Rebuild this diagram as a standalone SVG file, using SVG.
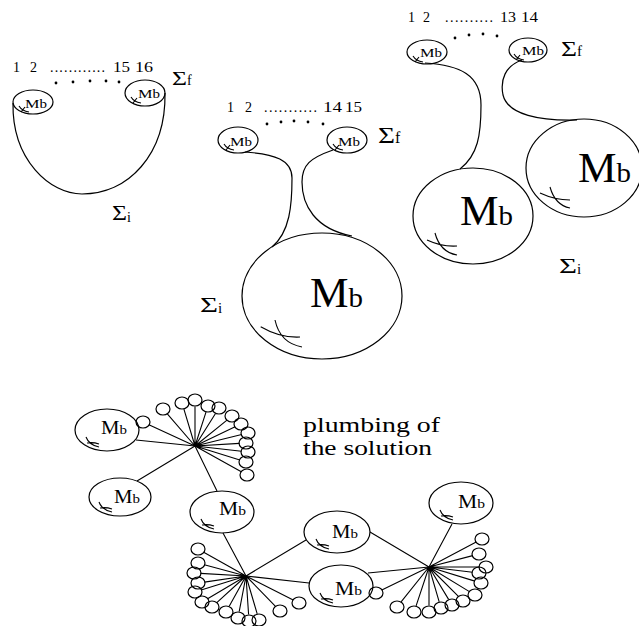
<svg xmlns="http://www.w3.org/2000/svg" xmlns:xlink="http://www.w3.org/1999/xlink" width="639" height="626" viewBox="0 0 639 626">
<style>
.s{fill:none;stroke:#000;stroke-width:1.2}
.l{fill:none;stroke:#000;stroke-width:1.1}
.t{font-family:"Liberation Serif","Times New Roman",serif;fill:#000}
.d{fill:#000}
</style>
<defs>
<path id="tk" d="M-14,4 Q-11,9 -4,10 M-12,10 L-8,5"/>
<path id="tb" d="M-21,7 Q-18,15 -8,17 M-20,13 Q-14,12 -8,14"/>
</defs>
<rect width="639" height="626" fill="#fff"/>

<!-- Figure 1 (top-left) -->
<g id="fig1">
  <g id="fig1-labels" class="t">
    <text x="13" y="72" font-size="14">1</text>
    <text x="30" y="72" font-size="14">2</text>
    <text x="50" y="72" font-size="14" textLength="55">............</text>
    <text x="113" y="72" font-size="14" textLength="17" lengthAdjust="spacingAndGlyphs">15</text>
    <text x="135" y="72" font-size="14" textLength="18" lengthAdjust="spacingAndGlyphs">16</text>
    <text x="172" y="85" font-size="19" textLength="15" lengthAdjust="spacingAndGlyphs">Σ</text>
    <text x="187" y="85" font-size="14">f</text>
    <text x="112" y="220" font-size="20" textLength="15" lengthAdjust="spacingAndGlyphs">Σ</text>
    <text x="127" y="222" font-size="14">i</text>
  </g>
  <g id="fig1-dots" class="d">
    <circle cx="56" cy="83" r="1.4"/><circle cx="73" cy="82" r="1.4"/><circle cx="90" cy="81" r="1.4"/><circle cx="106" cy="81" r="1.4"/><circle cx="119" cy="82" r="1.4"/>
  </g>
  <g id="fig1-mb1">
    <ellipse class="s" cx="33" cy="102" rx="20" ry="12"/>
    <use xlink:href="#tk" href="#tk" class="l" transform="translate(33,102)"/>
    <text class="t" x="25" y="108" font-size="13" textLength="22" lengthAdjust="spacingAndGlyphs">M<tspan font-size="12">b</tspan></text>
  </g>
  <g id="fig1-mb2">
    <ellipse class="s" cx="145" cy="93" rx="20" ry="13"/>
    <use xlink:href="#tk" href="#tk" class="l" transform="translate(145,93)"/>
    <text class="t" x="138" y="98" font-size="13" textLength="22" lengthAdjust="spacingAndGlyphs">M<tspan font-size="12">b</tspan></text>
  </g>
  <path id="fig1-sigma-i" class="s" d="M13,103 C12,160 50,194 82,194 C128,194 166,155 165,93"/>
</g>

<!-- Figure 2 (middle) -->
<g id="fig2">
  <g id="fig2-labels" class="t">
    <text x="227" y="112" font-size="14">1</text>
    <text x="245" y="112" font-size="14">2</text>
    <text x="264" y="112" font-size="14" textLength="53">...........</text>
    <text x="323" y="112" font-size="14" textLength="19" lengthAdjust="spacingAndGlyphs">14</text>
    <text x="345" y="112" font-size="14" textLength="17" lengthAdjust="spacingAndGlyphs">15</text>
    <text x="378" y="143" font-size="24" textLength="17" lengthAdjust="spacingAndGlyphs">Σ</text>
    <text x="395" y="143" font-size="16">f</text>
    <text x="200" y="312" font-size="21" textLength="18" lengthAdjust="spacingAndGlyphs">Σ</text>
    <text x="218" y="313" font-size="15">i</text>
  </g>
  <g id="fig2-dots" class="d">
    <circle cx="267" cy="124" r="1.4"/><circle cx="281" cy="122" r="1.4"/><circle cx="294" cy="121" r="1.4"/><circle cx="308" cy="122" r="1.4"/><circle cx="323" cy="124" r="1.4"/>
  </g>
  <g id="fig2-mb1">
    <ellipse class="s" cx="238" cy="140" rx="20" ry="13"/>
    <use xlink:href="#tk" href="#tk" class="l" transform="translate(238,140)"/>
    <text class="t" x="230" y="146" font-size="13" textLength="22" lengthAdjust="spacingAndGlyphs">M<tspan font-size="12">b</tspan></text>
  </g>
  <g id="fig2-mb2">
    <ellipse class="s" cx="347" cy="140" rx="20" ry="13"/>
    <use xlink:href="#tk" href="#tk" class="l" transform="translate(347,140)"/>
    <text class="t" x="338" y="146" font-size="13" textLength="22" lengthAdjust="spacingAndGlyphs">M<tspan font-size="12">b</tspan></text>
  </g>
  <g id="fig2-big">
    <ellipse class="s" cx="322" cy="296" rx="80" ry="63"/>
    <path class="l" d="M260.7,326.7 Q280,338 300,337 M275,320 Q280,343 302,347"/>
    <text class="t" x="310" y="307" font-size="42" textLength="53" lengthAdjust="spacingAndGlyphs">M<tspan font-size="28">b</tspan></text>
  </g>
  <path class="s" d="M245,152 C275,154 292,160 292,178 C292,205 290,232 272,247"/>
  <path class="s" d="M333,150 C310,158 302,165 302,182 C302,205 315,229 352,236"/>
</g>

<!-- Figure 3 (top-right) -->
<g id="fig3">
  <g id="fig3-labels" class="t">
    <text x="408" y="22" font-size="14">1</text>
    <text x="423" y="22" font-size="14">2</text>
    <text x="445" y="22" font-size="14" textLength="48">..........</text>
    <text x="500" y="22" font-size="14" textLength="16" lengthAdjust="spacingAndGlyphs">13</text>
    <text x="521" y="22" font-size="14" textLength="17" lengthAdjust="spacingAndGlyphs">14</text>
    <text x="561" y="56" font-size="21" textLength="16" lengthAdjust="spacingAndGlyphs">Σ</text>
    <text x="577" y="56" font-size="15">f</text>
    <text x="559" y="273" font-size="22" textLength="18" lengthAdjust="spacingAndGlyphs">Σ</text>
    <text x="577" y="274" font-size="15">i</text>
  </g>
  <g id="fig3-dots" class="d">
    <circle cx="455" cy="38" r="1.4"/><circle cx="469" cy="35" r="1.4"/><circle cx="483" cy="34" r="1.4"/><circle cx="497" cy="36" r="1.4"/>
  </g>
  <g id="fig3-mb1">
    <ellipse class="s" cx="427" cy="52" rx="20" ry="12"/>
    <use xlink:href="#tk" href="#tk" class="l" transform="translate(427,52)"/>
    <text class="t" x="420" y="57" font-size="13" textLength="22" lengthAdjust="spacingAndGlyphs">M<tspan font-size="12">b</tspan></text>
  </g>
  <g id="fig3-mb2">
    <ellipse class="s" cx="528" cy="50" rx="19" ry="12"/>
    <use xlink:href="#tk" href="#tk" class="l" transform="translate(528,50)"/>
    <text class="t" x="522" y="55" font-size="13" textLength="22" lengthAdjust="spacingAndGlyphs">M<tspan font-size="12">b</tspan></text>
  </g>
  <g id="fig3-big1">
    <ellipse class="s" cx="473" cy="216" rx="60" ry="48"/>
    <path class="l" d="M427,240 Q442,247 457,246 M435,233 Q440,252 457,255"/>
    <text class="t" x="460" y="225" font-size="42" textLength="53" lengthAdjust="spacingAndGlyphs">M<tspan font-size="28">b</tspan></text>
  </g>
  <g id="fig3-big2">
    <ellipse class="s" cx="584" cy="168" rx="58" ry="49"/>
    <path class="l" d="M540,193 Q555,200 570,200 M550,187 Q555,205 570,208"/>
    <text class="t" x="578" y="182" font-size="42" textLength="53" lengthAdjust="spacingAndGlyphs">M<tspan font-size="28">b</tspan></text>
  </g>
  <path class="s" d="M425,63 C460,65 481,75 481,105 C481,135 478,155 460,169"/>
  <path class="s" d="M522,60 C505,66 500,80 503,95 C508,115 540,121 577,120"/>
</g>

<!-- Caption -->
<g id="caption" class="t">
  <text x="303" y="432" font-size="20" textLength="137" lengthAdjust="spacingAndGlyphs">plumbing of</text>
  <text x="303" y="455" font-size="20" textLength="129" lengthAdjust="spacingAndGlyphs">the solution</text>
</g>

<!-- Bottom: plumbing graph -->
<g id="connectors" class="l">
  <!-- hub A -->
  <path d="M195,446 L136,440 M195,446 L137,481 M195,446 L217,491"/>
  <path d="M195,446 L148.9,424.7 M195,446 L167.3,413.9 M195,446 L183.9,409.2 M195,446 L195,406.5 M195,446 L206,412.2 M195,446 L215.5,413.5 M195,446 L227,420.1 M195,446 L235.1,426.8 M195,446 L241.7,434.5 M195,446 L239.5,443.4 M195,446 L241.5,451.3 M195,446 L239.8,460.1 M195,446 L241.3,471.8"/>
  <!-- hub B -->
  <path d="M246,576 L223,533 M246,576 L306,540 M246,576 L309,583"/>
  <path d="M246,576 L203.7,552.2 M246,576 L204.3,564.7 M246,576 L200.5,573.4 M246,576 L204.4,582.1 M246,576 L201.2,590.1 M246,576 L207.6,598.7 M246,576 L216.8,602.6 M246,576 L229.2,606.3 M246,576 L239.2,611.6 M246,576 L248.6,614.5 M246,576 L257.2,613.8 M246,576 L275.5,606.3 M246,576 L293.2,600"/>
  <!-- hub C -->
  <path d="M429,567 L370,532 M429,567 L368,573 M429,567 L452,524"/>
  <path d="M429,567 L476.2,542 M429,567 L472.7,555.6 M429,567 L479.5,567 M429,567 L472.5,572.2 M429,567 L474.8,581.1 M429,567 L469.4,591.6 M429,567 L458.4,596.4 M429,567 L448.6,599.4 M429,567 L439.2,601.8 M429,567 L429,605.5 M429,567 L416.1,605.8 M429,567 L401.1,601.9 M429,567 L381.8,590.1"/>
</g>

<g id="loops-A" class="s">
  <ellipse cx="143" cy="422" rx="7" ry="6"/><ellipse cx="163" cy="409" rx="7" ry="6"/><ellipse cx="182" cy="403" rx="7" ry="6"/><ellipse cx="195" cy="400" rx="7" ry="6"/><ellipse cx="208" cy="406" rx="7" ry="6"/><ellipse cx="219" cy="408" rx="7" ry="6"/><ellipse cx="232" cy="416" rx="7" ry="6"/><ellipse cx="241" cy="424" rx="7" ry="6"/><ellipse cx="248" cy="433" rx="7" ry="6"/><ellipse cx="246" cy="443" rx="7" ry="6"/><ellipse cx="248" cy="452" rx="7" ry="6"/><ellipse cx="246" cy="462" rx="7" ry="6"/><ellipse cx="247" cy="475" rx="7" ry="6"/>
</g>
<g id="loops-B" class="s">
  <ellipse cx="198" cy="549" rx="7" ry="6"/><ellipse cx="198" cy="563" rx="7" ry="6"/><ellipse cx="194" cy="573" rx="7" ry="6"/><ellipse cx="198" cy="583" rx="7" ry="6"/><ellipse cx="195" cy="592" rx="7" ry="6"/><ellipse cx="202" cy="602" rx="7" ry="6"/><ellipse cx="212" cy="607" rx="7" ry="6"/><ellipse cx="226" cy="612" rx="7" ry="6"/><ellipse cx="238" cy="618" rx="7" ry="6"/><ellipse cx="249" cy="621" rx="7" ry="6"/><ellipse cx="259" cy="620" rx="7" ry="6"/><ellipse cx="280" cy="611" rx="7" ry="6"/><ellipse cx="299" cy="603" rx="7" ry="6"/>
</g>
<g id="loops-C" class="s">
  <ellipse cx="482" cy="539" rx="7" ry="6"/><ellipse cx="479" cy="554" rx="7" ry="6"/><ellipse cx="486" cy="567" rx="7" ry="6"/><ellipse cx="479" cy="573" rx="7" ry="6"/><ellipse cx="481" cy="583" rx="7" ry="6"/><ellipse cx="475" cy="595" rx="7" ry="6"/><ellipse cx="463" cy="601" rx="7" ry="6"/><ellipse cx="452" cy="605" rx="7" ry="6"/><ellipse cx="441" cy="608" rx="7" ry="6"/><ellipse cx="429" cy="612" rx="7" ry="6"/><ellipse cx="414" cy="612" rx="7" ry="6"/><ellipse cx="397" cy="607" rx="7" ry="6"/><ellipse cx="376" cy="593" rx="7" ry="6"/>
</g>

<g id="node-A1">
  <ellipse class="s" cx="107" cy="430" rx="32" ry="21"/>
  <use xlink:href="#tb" href="#tb" class="l" transform="translate(107,430)"/>
  <text class="t" x="101" y="434" font-size="18" textLength="26" lengthAdjust="spacingAndGlyphs">M<tspan font-size="13">b</tspan></text>
</g>
<g id="node-A2">
  <ellipse class="s" cx="120" cy="497" rx="31" ry="19"/>
  <use xlink:href="#tb" href="#tb" class="l" transform="translate(120,495)"/>
  <text class="t" x="114" y="503" font-size="18" textLength="26" lengthAdjust="spacingAndGlyphs">M<tspan font-size="13">b</tspan></text>
</g>
<g id="node-M">
  <ellipse class="s" cx="222" cy="512" rx="32" ry="21"/>
  <use xlink:href="#tb" href="#tb" class="l" transform="translate(222,512)"/>
  <text class="t" x="219" y="515" font-size="18" textLength="27" lengthAdjust="spacingAndGlyphs">M<tspan font-size="13">b</tspan></text>
</g>
<g id="node-C">
  <ellipse class="s" cx="337" cy="532" rx="33" ry="21"/>
  <use xlink:href="#tb" href="#tb" class="l" transform="translate(337,532)"/>
  <text class="t" x="332" y="538" font-size="18" textLength="26" lengthAdjust="spacingAndGlyphs">M<tspan font-size="13">b</tspan></text>
</g>
<g id="node-D">
  <ellipse class="s" cx="341" cy="586" rx="32" ry="21"/>
  <use xlink:href="#tb" href="#tb" class="l" transform="translate(341,586)"/>
  <text class="t" x="335" y="595" font-size="18" textLength="27" lengthAdjust="spacingAndGlyphs">M<tspan font-size="13">b</tspan></text>
</g>
<g id="node-E">
  <ellipse class="s" cx="461" cy="503" rx="32" ry="21"/>
  <use xlink:href="#tb" href="#tb" class="l" transform="translate(461,503)"/>
  <text class="t" x="458" y="508" font-size="18" textLength="27" lengthAdjust="spacingAndGlyphs">M<tspan font-size="13">b</tspan></text>
</g>
</svg>
